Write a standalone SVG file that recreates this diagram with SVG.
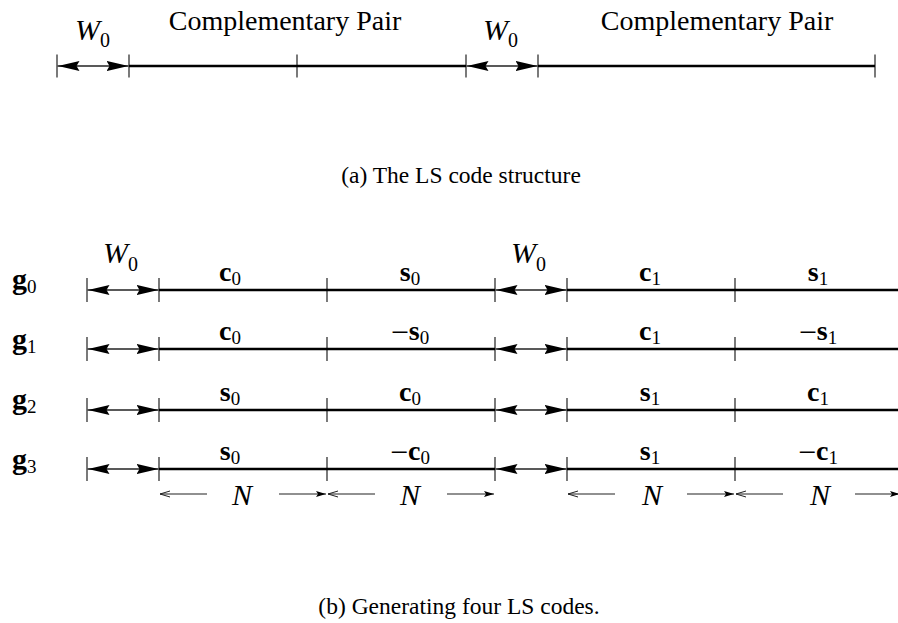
<svg xmlns="http://www.w3.org/2000/svg" width="898" height="623" viewBox="0 0 898 623">
<defs>
<style>
.thick{stroke:#000;stroke-width:2.5;fill:none}
.tick{stroke:#222;stroke-width:1.2;fill:none}
.w0{stroke:#222;stroke-width:1.3;fill:none;marker-start:url(#big);marker-end:url(#big)}
.nl{stroke:#222;stroke-width:1.2;fill:none;marker-start:url(#open)}
.nr{stroke:#222;stroke-width:1.2;fill:none;marker-end:url(#small)}
.cp{font-size:28px}
.cap{font-size:23.5px}
.it{font-style:italic;font-size:30px}
.sub{font-size:20px;font-style:normal;font-weight:normal}
.lbl{font-size:28px}
.b{font-weight:bold}
.s18{font-size:19px;font-weight:normal}
.mn{font-size:32px;font-weight:normal}
</style>
<marker id="big" viewBox="0 0 22 10" refX="22" refY="5" markerWidth="22" markerHeight="10" markerUnits="userSpaceOnUse" orient="auto-start-reverse">
<path d="M0,0 L22,5 L0,10 L3,5 Z" fill="#000"/>
</marker>
<marker id="small" viewBox="0 0 10 6" refX="10" refY="3" markerWidth="10" markerHeight="6" markerUnits="userSpaceOnUse" orient="auto">
<path d="M0,0 L10,3 L0,6 L2,3 Z" fill="#000"/>
</marker>
<marker id="open" viewBox="0 0 10 8" refX="10" refY="4" markerWidth="10" markerHeight="8" markerUnits="userSpaceOnUse" orient="auto-start-reverse">
<path d="M0,1 L10,4 L0,7" fill="none" stroke="#222" stroke-width="1"/>
</marker>
</defs>

<g id="partA" font-family="'Liberation Serif', 'DejaVu Serif', serif" fill="#000">
<g id="a-ticks">
<path class="tick" d="M57,54.5V77.5M129,54.5V77.5M297,54.5V77.5M466,54.5V77.5M538,54.5V77.5M875,54.5V77.5"/>
</g>
<g id="connectors-a">
<line class="w0" x1="57.5" y1="66" x2="128.5" y2="66"/>
<line class="w0" x1="466.5" y1="66" x2="537.5" y2="66"/>
<line class="thick" x1="129" y1="66" x2="466" y2="66"/>
<line class="thick" x1="538" y1="66" x2="875" y2="66"/>
</g>
<g id="a-labels">
<text class="it" x="75" y="40">W<tspan class="sub" dy="7">0</tspan></text>
<text class="it" x="483" y="40">W<tspan class="sub" dy="7">0</tspan></text>
<text class="cp" x="285" y="30" text-anchor="middle">Complementary Pair</text>
<text class="cp" x="717" y="30" text-anchor="middle">Complementary Pair</text>
</g>
<text class="cap" x="461" y="183" text-anchor="middle">(a) The LS code structure</text>
</g>

<g id="partB" font-family="'Liberation Serif', 'DejaVu Serif', serif" fill="#000">
<g id="b-ticks">
<path class="tick" d="M87,278V302M159,278V302M327,278V302M495,278V302M567,278V302M735,278V302"/>
<path class="tick" d="M87,337V361M159,337V361M327,337V361M495,337V361M567,337V361M735,337V361"/>
<path class="tick" d="M87,398V422M159,398V422M327,398V422M495,398V422M567,398V422M735,398V422"/>
<path class="tick" d="M87,457V481M159,457V481M327,457V481M495,457V481M567,457V481M735,457V481"/>
</g>
<g id="connectors-b">
<line class="w0" x1="87.5" y1="290" x2="158.5" y2="290"/>
<line class="w0" x1="495.5" y1="290" x2="566.5" y2="290"/>
<line class="thick" x1="159" y1="290" x2="495" y2="290"/>
<line class="thick" x1="567" y1="290" x2="898" y2="290"/>
<line class="w0" x1="87.5" y1="349" x2="158.5" y2="349"/>
<line class="w0" x1="495.5" y1="349" x2="566.5" y2="349"/>
<line class="thick" x1="159" y1="349" x2="495" y2="349"/>
<line class="thick" x1="567" y1="349" x2="898" y2="349"/>
<line class="w0" x1="87.5" y1="410" x2="158.5" y2="410"/>
<line class="w0" x1="495.5" y1="410" x2="566.5" y2="410"/>
<line class="thick" x1="159" y1="410" x2="495" y2="410"/>
<line class="thick" x1="567" y1="410" x2="898" y2="410"/>
<line class="w0" x1="87.5" y1="469" x2="158.5" y2="469"/>
<line class="w0" x1="495.5" y1="469" x2="566.5" y2="469"/>
<line class="thick" x1="159" y1="469" x2="495" y2="469"/>
<line class="thick" x1="567" y1="469" x2="898" y2="469"/>
<line class="nl" x1="160" y1="494" x2="207" y2="494"/>
<line class="nr" x1="279" y1="494" x2="326" y2="494"/>
<line class="nl" x1="328" y1="494" x2="375" y2="494"/>
<line class="nr" x1="447" y1="494" x2="494" y2="494"/>
<line class="nl" x1="568" y1="494" x2="615" y2="494"/>
<line class="nr" x1="687" y1="494" x2="734" y2="494"/>
<line class="nl" x1="736" y1="494" x2="783" y2="494"/>
<line class="nr" x1="855" y1="494" x2="900" y2="494"/>
</g>
<g id="b-w0">
<text class="it" x="103" y="263">W<tspan class="sub" dy="8">0</tspan></text>
<text class="it" x="511" y="263">W<tspan class="sub" dy="8">0</tspan></text>
</g>
<g id="g-labels" class="lbl">
<text x="12" y="289"><tspan class="b" font-size="30">g</tspan><tspan class="s18" font-size="20" dy="4">0</tspan></text>
<text x="12" y="349"><tspan class="b" font-size="30">g</tspan><tspan class="s18" font-size="20" dy="4">1</tspan></text>
<text x="12" y="409"><tspan class="b" font-size="30">g</tspan><tspan class="s18" font-size="20" dy="4">2</tspan></text>
<text x="12" y="469"><tspan class="b" font-size="30">g</tspan><tspan class="s18" font-size="20" dy="4">3</tspan></text>
</g>
<g id="row0" class="lbl">
<text x="230" y="281" text-anchor="middle"><tspan class="b">c</tspan><tspan class="s18" dy="4">0</tspan></text>
<text x="410" y="281" text-anchor="middle"><tspan class="b">s</tspan><tspan class="s18" dy="4">0</tspan></text>
<text x="650" y="281" text-anchor="middle"><tspan class="b">c</tspan><tspan class="s18" dy="4">1</tspan></text>
<text x="818" y="281" text-anchor="middle"><tspan class="b">s</tspan><tspan class="s18" dy="4">1</tspan></text>
</g>
<g id="row1" class="lbl">
<text x="230" y="340" text-anchor="middle"><tspan class="b">c</tspan><tspan class="s18" dy="4">0</tspan></text>
<text x="410" y="340" text-anchor="middle"><tspan class="mn" dy="3">−</tspan><tspan class="b" dy="-3">s</tspan><tspan class="s18" dy="4">0</tspan></text>
<text x="650" y="340" text-anchor="middle"><tspan class="b">c</tspan><tspan class="s18" dy="4">1</tspan></text>
<text x="818" y="340" text-anchor="middle"><tspan class="mn" dy="3">−</tspan><tspan class="b" dy="-3">s</tspan><tspan class="s18" dy="4">1</tspan></text>
</g>
<g id="row2" class="lbl">
<text x="230" y="401" text-anchor="middle"><tspan class="b">s</tspan><tspan class="s18" dy="4">0</tspan></text>
<text x="410" y="401" text-anchor="middle"><tspan class="b">c</tspan><tspan class="s18" dy="4">0</tspan></text>
<text x="650" y="401" text-anchor="middle"><tspan class="b">s</tspan><tspan class="s18" dy="4">1</tspan></text>
<text x="818" y="401" text-anchor="middle"><tspan class="b">c</tspan><tspan class="s18" dy="4">1</tspan></text>
</g>
<g id="row3" class="lbl">
<text x="230" y="460" text-anchor="middle"><tspan class="b">s</tspan><tspan class="s18" dy="4">0</tspan></text>
<text x="410" y="460" text-anchor="middle"><tspan class="mn" dy="3">−</tspan><tspan class="b" dy="-3">c</tspan><tspan class="s18" dy="4">0</tspan></text>
<text x="650" y="460" text-anchor="middle"><tspan class="b">s</tspan><tspan class="s18" dy="4">1</tspan></text>
<text x="818" y="460" text-anchor="middle"><tspan class="mn" dy="3">−</tspan><tspan class="b" dy="-3">c</tspan><tspan class="s18" dy="4">1</tspan></text>
</g>
<g id="n-labels">
<text class="it" x="242" y="505" text-anchor="middle">N</text>
<text class="it" x="410" y="505" text-anchor="middle">N</text>
<text class="it" x="652" y="505" text-anchor="middle">N</text>
<text class="it" x="820" y="505" text-anchor="middle">N</text>
</g>
<text class="cap" x="459" y="614" text-anchor="middle">(b) Generating four LS codes.</text>
</g>
</svg>
